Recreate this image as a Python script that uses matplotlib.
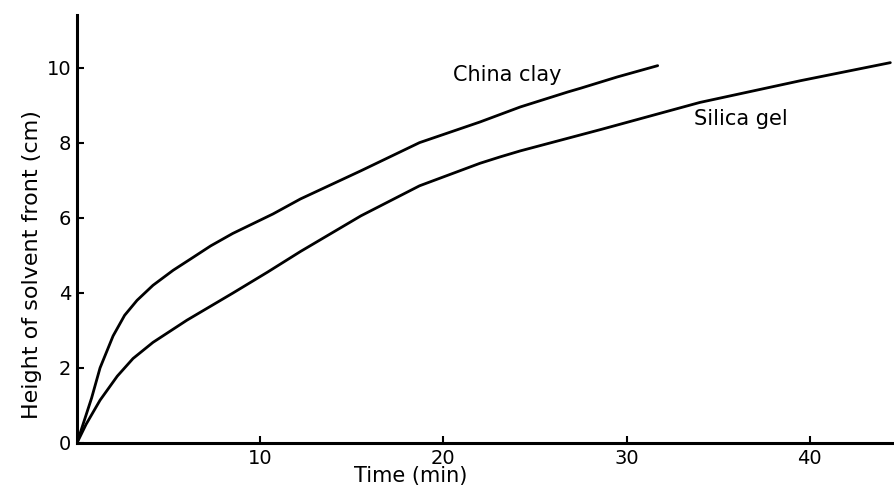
import matplotlib
matplotlib.use("Agg")
import matplotlib.pyplot as plt

# values (time in min, height in cm)
china_t = [0, 0.5, 0.8, 1.26, 1.97, 2.6, 3.28, 4.15, 5.25, 6.2, 7.3, 8.5, 10.7, 12.2,
           15.5, 18.7, 22.0, 23.1, 24.2, 26.8, 27.5, 29.5, 31.7]
china_h = [0, 0.75, 1.2, 2.0, 2.85, 3.4, 3.8, 4.2, 4.6, 4.9, 5.25, 5.58, 6.1, 6.5,
           7.25, 8.0, 8.55, 8.75, 8.95, 9.35, 9.45, 9.75, 10.05]

silica_t = [0, 0.5, 1.26, 2.2, 3.06, 4.15, 6.0, 8.5, 10.4, 12.2, 15.5, 18.7, 22.0,
            23.1, 24.2, 28.6, 34.0, 39.5, 44.4]
silica_h = [0, 0.5, 1.14, 1.78, 2.25, 2.68, 3.27, 3.99, 4.55, 5.1, 6.05, 6.85, 7.45,
            7.62, 7.78, 8.35, 9.07, 9.65, 10.13]

x_ticks = [10, 20, 30, 40]
y_ticks = [0, 2, 4, 6, 8, 10]

plt.rcParams['font.family'] = ['DejaVu Sans']

fig = plt.figure(figsize=(8.94, 4.86), dpi=100)
ax = fig.add_axes([0.0861, 0.0885, 0.9139, 0.8807])

ax.plot(china_t, china_h, color='black', lw=2.0, solid_capstyle='round', solid_joinstyle='round')
ax.plot(silica_t, silica_h, color='black', lw=2.0, solid_capstyle='round', solid_joinstyle='round')

ax.text(20.5, 9.79, 'China clay', fontsize=15, va='center', ha='left')
ax.text(33.7, 8.64, 'Silica gel', fontsize=15, va='center', ha='left')

ax.set_xlim(0, 44.6)
ax.set_ylim(0, 11.4)
ax.set_xticks(x_ticks)
ax.set_yticks(y_ticks)
ax.tick_params(direction='in', length=5, width=1.5, labelsize=14, pad=4)

for s in ['top', 'right']:
    ax.spines[s].set_visible(False)
for s in ['left', 'bottom']:
    ax.spines[s].set_linewidth(2.2)

ax.set_xlabel('Time (min)', fontsize=15)
ax.xaxis.set_label_coords(0.408, -0.054)
ax.set_ylabel('Height of solvent front (cm)', fontsize=16)
ax.yaxis.set_label_coords(-0.0428, 0.416)

fig.savefig('out.png', dpi=100)
